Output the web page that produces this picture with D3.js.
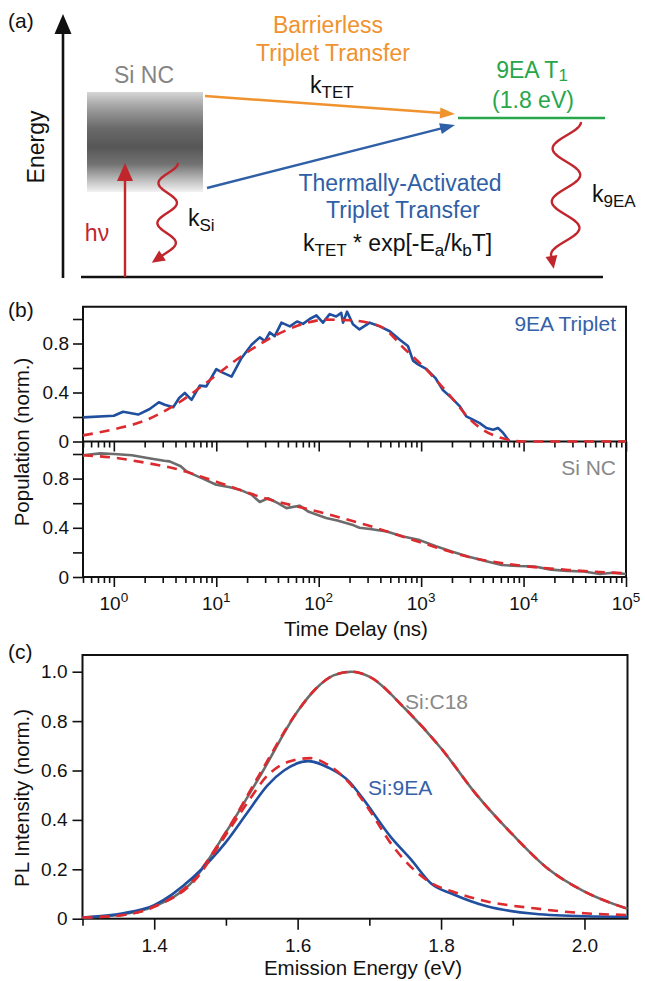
<!DOCTYPE html>
<html>
<head>
<meta charset="utf-8">
<script src="https://cdn.jsdelivr.net/npm/d3@7"></script>
<style>
  body { margin: 0; background: #fff; }
  text { font-family: "Liberation Sans", Arial, Helvetica, sans-serif; }
</style>
</head>
<body>
<svg id="fig"></svg>
<script>
// ---- panel (b), top: 9EA triplet population vs delay (ns) ----
const tripletTime = [0.5, 1, 1.23, 1.73, 2.24, 2.75, 3.14, 3.8, 4.34, 4.93, 5.74, 6.9, 8.0, 10, 11.7, 14.1,
  17.6, 22.1, 26.6, 29.8, 33.3, 37.2, 43.3, 52.3, 61.4, 70.3, 81.6, 95, 110, 128, 148, 166, 173, 189,
  216, 250, 315, 394, 494, 619, 743, 833, 933, 1130, 1373, 1630, 1980, 2390, 2760, 3200, 3730, 4340,
  5050, 5630, 6320, 7300];
const tripletPop = [0.197, 0.21, 0.243, 0.22, 0.265, 0.32, 0.30, 0.28, 0.355, 0.396, 0.34, 0.456, 0.45, 0.59,
  0.56, 0.53, 0.68, 0.79, 0.85, 0.82, 0.89, 0.86, 0.97, 0.94, 0.98, 0.96, 1.0, 1.03, 0.97, 1.04, 1.02, 1.05,
  0.97, 1.06, 0.957, 0.915, 0.97, 0.94, 0.90, 0.83, 0.78, 0.66, 0.63, 0.59, 0.52, 0.42, 0.356, 0.287, 0.205,
  0.178, 0.15, 0.11, 0.096, 0.11, 0.07, 0.0];
const tripletFitTime = [0.5, 1, 2, 4, 8, 15, 30, 60, 120, 200, 400, 700, 1000, 2000, 3000, 4000, 6000, 8000, 10000, 100000];
const tripletFitPop = [0.05, 0.10, 0.17, 0.30, 0.48, 0.655, 0.82, 0.94, 0.995, 0.99, 0.94, 0.75, 0.63, 0.355, 0.18, 0.096, 0.03, 0.005, 0, 0];

// ---- panel (b), bottom: Si NC population ----
const siTime = [0.5, 0.74, 1.0, 1.5, 2.2, 3.1, 3.5, 4.5, 5.1, 6.5, 7.4, 10, 13.6, 16.9, 22, 26.6, 32, 40, 48.4,
  65, 80, 118, 152, 220, 250, 318, 461, 667, 967, 1396, 2020, 2920, 4230, 6100, 8830, 12800, 18500, 26700,
  38600, 55800, 74000, 100000];
const siPop = [0.99, 1.005, 1.0, 0.99, 0.965, 0.945, 0.94, 0.90, 0.86, 0.82, 0.80, 0.75, 0.73, 0.71, 0.67, 0.61,
  0.64, 0.60, 0.56, 0.58, 0.53, 0.48, 0.46, 0.42, 0.40, 0.39, 0.37, 0.33, 0.30, 0.25, 0.205, 0.165, 0.13,
  0.098, 0.09, 0.085, 0.06, 0.05, 0.045, 0.025, 0.035, 0.025];
const siFitTime = [0.5, 1, 2, 4, 10, 30, 100, 300, 1000, 3000, 10000, 30000, 100000];
const siFitPop = [0.99, 0.97, 0.93, 0.88, 0.775, 0.64, 0.53, 0.42, 0.28, 0.16, 0.09, 0.055, 0.03];

// ---- panel (c): PL spectra ----
const c18Energy = [1.30, 1.35, 1.40, 1.45, 1.50, 1.55, 1.60, 1.625, 1.65, 1.675, 1.70, 1.75, 1.80, 1.85, 1.90, 1.95, 2.00, 2.06];
const c18PL = [0.005, 0.015, 0.05, 0.14, 0.35, 0.59, 0.84, 0.93, 0.985, 1.0, 0.98, 0.85, 0.69, 0.50, 0.34, 0.20, 0.11, 0.04];
const c18FitPL = [0.004, 0.013, 0.048, 0.145, 0.35, 0.60, 0.84, 0.93, 0.985, 1.0, 0.98, 0.85, 0.69, 0.50, 0.34, 0.20, 0.11, 0.04];
const ea9Energy = [1.30, 1.357, 1.40, 1.455, 1.50, 1.53, 1.558, 1.581, 1.615, 1.644, 1.672, 1.69, 1.73, 1.758, 1.787, 1.816, 1.864, 1.93, 2.0, 2.06];
const ea9PL = [0.005, 0.022, 0.055, 0.17, 0.31, 0.43, 0.54, 0.60, 0.638, 0.61, 0.555, 0.49, 0.33, 0.24, 0.14, 0.10, 0.05, 0.02, 0.01, 0.008];
const ea9FitEnergy = [1.30, 1.357, 1.40, 1.455, 1.50, 1.53, 1.558, 1.587, 1.618, 1.644, 1.672, 1.70, 1.73, 1.758, 1.787, 1.816, 1.864, 1.93, 2.0, 2.06];
const ea9FitPL = [0.005, 0.015, 0.05, 0.15, 0.34, 0.47, 0.58, 0.635, 0.65, 0.62, 0.55, 0.44, 0.305, 0.21, 0.143, 0.11, 0.07, 0.042, 0.022, 0.015];

const yTicks = [0, 0.2, 0.4, 0.6, 0.8, 1.0];
const bYLabels = [0, 0.4, 0.8];
const decades = [1, 10, 100, 1000, 10000, 100000];
const cMajor = [1.4, 1.6, 1.8, 2.0];
const cMinor = [1.3, 1.5, 1.7, 1.9];

const col = {
    blue: '#1f4f9e', blueText: '#3561a9', gray: '#6c6c6c', grayText: '#888888',
    red: '#dc2a2e', orange: '#f0922e', green: '#27a64c', wine: '#c1262d'
};

const svg = d3.select('#fig').attr('width', 645).attr('height', 981);
svg.append('rect').attr('width', 645).attr('height', 981).attr('fill', '#fff');
const defs = svg.append('defs');

// helpers
const label = (g, x, y, txt, size, color, anchor) =>
    g.append('text').attr('x', x).attr('y', y).attr('dy', '0.35em')
        .attr('font-size', size).attr('fill', color || '#111')
        .attr('text-anchor', anchor || 'middle').text(txt);

// text made of [string, isSub] parts
const richText = (g, x, y, parts, size, color, anchor, subShift) => {
    const t = g.append('text').attr('x', x).attr('y', y).attr('font-size', size)
        .attr('fill', color).attr('text-anchor', anchor || 'start');
    let cur = 0;
    parts.forEach(([s, sub]) => {
        const want = sub ? subShift : 0;
        t.append('tspan').attr('dy', want - cur)
            .attr('font-size', sub ? size * 0.74 : size).text(s);
        cur = want;
    });
    return t;
};

const head = (g, tip, dir, len, wid, color) => {
    const n = Math.hypot(dir[0], dir[1]);
    const ux = dir[0] / n, uy = dir[1] / n;
    const bx = tip[0] - ux * len, by = tip[1] - uy * len;
    g.append('path')
        .attr('d', `M${tip[0]},${tip[1]}L${bx - uy * wid / 2},${by + ux * wid / 2}L${bx + uy * wid / 2},${by - ux * wid / 2}Z`)
        .attr('fill', color);
    return [bx + ux * 2, by + uy * 2];
};

const arrow = (g, from, tip, len, wid, color, sw) => {
    const end = head(g, tip, [tip[0] - from[0], tip[1] - from[1]], len, wid, color);
    g.append('line').attr('x1', from[0]).attr('y1', from[1]).attr('x2', end[0]).attr('y2', end[1])
        .attr('stroke', color).attr('stroke-width', sw);
};

const wavy = (g, x0, y0, y1, cxEnd, amp, period, tipLen, color) => {
    const cx0 = x0 - amp;
    const pts = d3.range(y0, y1 + 0.5, 1).map(y => {
        const c = cx0 + (cxEnd - cx0) * (y - y0) / (y1 - y0);
        return [c + amp * Math.cos(2 * Math.PI * (y - y0) / period), y];
    });
    g.append('path').attr('d', d3.line()(pts)).attr('fill', 'none')
        .attr('stroke', color).attr('stroke-width', 2.4);
    const a = pts[pts.length - 4], b = pts[pts.length - 1];
    const d = [b[0] - a[0], b[1] - a[1]];
    const n = Math.hypot(d[0], d[1]);
    head(g, [b[0] + d[0] / n * tipLen, b[1] + d[1] / n * tipLen], d, tipLen + 1, 12, color);
};

// ================= panel (a) =================
const gA = svg.append('g');
label(gA, 8, 21, '(a)', 21, '#111', 'start');

const grad = defs.append('linearGradient').attr('id', 'siGrad')
    .attr('x1', 0).attr('y1', 0).attr('x2', 0).attr('y2', 1);
[[0, '#d6d6d6'], [0.14, '#a4a4a4'], [0.36, '#6a6a6a'], [0.55, '#565656'], [0.72, '#727272'],
 [0.88, '#bdbdbd'], [1, '#f2f2f2']].forEach(([o, c]) =>
    grad.append('stop').attr('offset', o).attr('stop-color', c));
gA.append('rect').attr('x', 87).attr('y', 92).attr('width', 116).attr('height', 100)
    .attr('fill', 'url(#siGrad)');

// energy axis and baseline
arrow(gA, [63, 278], [63, 14], 20, 17, '#111', 2.6);
gA.append('line').attr('x1', 81).attr('x2', 603).attr('y1', 277).attr('y2', 277)
    .attr('stroke', '#111').attr('stroke-width', 2.6);
gA.append('text').attr('transform', 'translate(36,147) rotate(-90)').attr('dy', '0.35em')
    .attr('text-anchor', 'middle').attr('font-size', 23).attr('fill', '#111').text('Energy');

label(gA, 144, 75, 'Si NC', 23, '#858585');

// transfer arrows and triplet level
arrow(gA, [205, 96], [455, 114], 15, 11, col.orange, 2.4);
arrow(gA, [207, 188], [455, 125], 15, 11, '#2f5fa6', 2.4);
gA.append('line').attr('x1', 458).attr('x2', 605).attr('y1', 118).attr('y2', 118)
    .attr('stroke', col.green).attr('stroke-width', 2.6);

label(gA, 328, 25, 'Barrierless', 23, col.orange);
label(gA, 333, 53, 'Triplet Transfer', 23, col.orange);
richText(gA, 310, 93, [['k', 0], ['TET', 1]], 23, '#111', 'start', 5);

richText(gA, 532, 78, [['9EA T', 0], ['1', 1]], 23, col.green, 'middle', 3);
label(gA, 533, 100, '(1.8 eV)', 23, col.green);

label(gA, 400, 183, 'Thermally-Activated', 23, '#2f5fa6');
label(gA, 403, 210, 'Triplet Transfer', 23, '#2f5fa6');
richText(gA, 303, 251, [['k', 0], ['TET', 1], [' * exp[-E', 0], ['a', 1], ['/k', 0], ['b', 1], ['T]', 0]],
    23, '#111', 'start', 5);

// excitation and decay
arrow(gA, [125, 277], [125, 163], 18, 16, col.wine, 2.4);
label(gA, 97, 233, 'h\u03bd', 23, col.wine);
wavy(gA, 178, 163, 256, 166, 9.5, 40, 12, col.wine);
richText(gA, 188, 226, [['k', 0], ['Si', 1]], 23, '#111', 'start', 5);
wavy(gA, 581, 122, 257, 565, 14, 53, 12, col.wine);
richText(gA, 592, 202, [['k', 0], ['9EA', 1]], 23, '#111', 'start', 5);

// ================= panel (b) =================
const gB = svg.append('g');
const x = d3.scaleLog().domain([0.5, 1e5]).range([83, 626]);
const yTop = d3.scaleLinear().domain([0, 1.1]).range([441.5, 306.75]);
const yBot = d3.scaleLinear().domain([0, 1.1]).range([577, 441.7]);

const minorLog = [];
[0.1, 1, 10, 100, 1000, 10000].forEach(d => d3.range(2, 10).forEach(m => {
    const v = d * m;
    if (v >= 0.5 && v <= 1e5) minorLog.push(v);
}));

const logTicks = (y0) => {
    gB.append('g').attr('transform', `translate(0,${y0})`)
        .call(d3.axisBottom(x).tickValues(minorLog).tickSize(6).tickFormat(''))
        .call(g => g.select('.domain').remove());
    gB.append('g').attr('transform', `translate(0,${y0})`)
        .call(d3.axisBottom(x).tickValues(decades).tickSize(10).tickFormat(''))
        .call(g => g.select('.domain').remove());
};
logTicks(441.5);
logTicks(577);

const yAxisB = (scale) => {
    const g = gB.append('g').attr('transform', 'translate(83,0)')
        .call(d3.axisLeft(scale).tickValues(yTicks).tickSize(10)
            .tickFormat(d => bYLabels.includes(d) ? (d === 0 ? '0' : d3.format('.1f')(d)) : ''));
    g.select('.domain').remove();
    g.selectAll('text').attr('font-size', 19).attr('fill', '#111').attr('x', -14)
        .style('font-family', '"Liberation Sans", Arial, sans-serif');
};
yAxisB(yTop);
yAxisB(yBot);
gB.selectAll('.tick line').attr('stroke', '#111').attr('stroke-width', 1.6);

// frame
gB.append('path')
    .attr('d', `M83,577V306.75H626V577H83M83,441.5H626`)
    .attr('fill', 'none').attr('stroke', '#111').attr('stroke-width', 2);

// decade labels
decades.forEach(d => {
    const t = gB.append('text').attr('x', x(d)).attr('y', 610).attr('text-anchor', 'middle')
        .attr('font-size', 19).attr('fill', '#111');
    t.append('tspan').text('10');
    t.append('tspan').attr('dy', -8).attr('font-size', 13.5).text(Math.round(Math.log10(d)));
});
label(gB, 356, 629, 'Time Delay (ns)', 20.5, '#111');
gB.append('text').attr('transform', 'translate(22,442) rotate(-90)').attr('dy', '0.35em')
    .attr('text-anchor', 'middle').attr('font-size', 20.5).attr('fill', '#111').text('Population (norm.)');
label(gB, 8, 310, '(b)', 21, '#111', 'start');

const lineB = (xs, ys, scale) => d3.line().x((d, i) => x(xs[i])).y(d => scale(d))(ys);
gB.append('path').attr('d', lineB(tripletTime, tripletPop, yTop))
    .attr('fill', 'none').attr('stroke', col.blue).attr('stroke-width', 2.6).attr('stroke-linejoin', 'round');
gB.append('path').attr('d', d3.line().x((d, i) => x(tripletFitTime[i])).y(d => yTop(d)).curve(d3.curveMonotoneX)(tripletFitPop))
    .attr('fill', 'none').attr('stroke', col.red).attr('stroke-width', 2.6).attr('stroke-dasharray', '10,7');
gB.append('path').attr('d', lineB(siTime, siPop, yBot))
    .attr('fill', 'none').attr('stroke', col.gray).attr('stroke-width', 2.6).attr('stroke-linejoin', 'round');
gB.append('path').attr('d', d3.line().x((d, i) => x(siFitTime[i])).y(d => yBot(d)).curve(d3.curveMonotoneX)(siFitPop))
    .attr('fill', 'none').attr('stroke', col.red).attr('stroke-width', 2.6).attr('stroke-dasharray', '10,7');

label(gB, 616, 324, '9EA Triplet', 21, col.blueText, 'end');
label(gB, 616, 468, 'Si NC', 21, col.grayText, 'end');

// ================= panel (c) =================
const gC = svg.append('g');
const xc = d3.scaleLinear().domain([1.3, 2.06]).range([82.5, 627.5]);
const yc = d3.scaleLinear().domain([0, 1.0676]).range([918.7, 655]);

gC.append('g').attr('transform', 'translate(0,918.7)')
    .call(d3.axisBottom(xc).tickValues(cMinor).tickSize(7).tickFormat(''))
    .call(g => g.select('.domain').remove());
const xcAxis = gC.append('g').attr('transform', 'translate(0,918.7)')
    .call(d3.axisBottom(xc).tickValues(cMajor).tickSize(11).tickPadding(9).tickFormat(d3.format('.1f')));
xcAxis.select('.domain').remove();
const ycAxis = gC.append('g').attr('transform', 'translate(82.5,0)')
    .call(d3.axisLeft(yc).tickValues(yTicks).tickSize(10).tickPadding(5)
        .tickFormat(d => d === 0 ? '0' : d3.format('.1f')(d)));
ycAxis.select('.domain').remove();
gC.selectAll('.tick line').attr('stroke', '#111').attr('stroke-width', 1.6);
gC.selectAll('.tick text').attr('font-size', 19).attr('fill', '#111')
    .style('font-family', '"Liberation Sans", Arial, sans-serif');

gC.append('rect').attr('x', 82.5).attr('y', 655).attr('width', 545).attr('height', 263.7)
    .attr('fill', 'none').attr('stroke', '#111').attr('stroke-width', 2);

const lineC = (xs, ys) => d3.line().x((d, i) => xc(xs[i])).y(d => yc(d)).curve(d3.curveMonotoneX)(ys);
gC.append('path').attr('d', lineC(c18Energy, c18PL))
    .attr('fill', 'none').attr('stroke', col.gray).attr('stroke-width', 2.6);
gC.append('path').attr('d', lineC(c18Energy, c18FitPL))
    .attr('fill', 'none').attr('stroke', col.red).attr('stroke-width', 2.6).attr('stroke-dasharray', '10,7');
gC.append('path').attr('d', lineC(ea9Energy, ea9PL))
    .attr('fill', 'none').attr('stroke', col.blue).attr('stroke-width', 2.6);
gC.append('path').attr('d', lineC(ea9FitEnergy, ea9FitPL))
    .attr('fill', 'none').attr('stroke', col.red).attr('stroke-width', 2.6).attr('stroke-dasharray', '10,7');

label(gC, 405, 702, 'Si:C18', 21, col.grayText, 'start');
label(gC, 368, 788, 'Si:9EA', 21, col.blueText, 'start');
label(gC, 363, 968, 'Emission Energy (eV)', 20.5, '#111');
gC.append('text').attr('transform', 'translate(22,798) rotate(-90)').attr('dy', '0.35em')
    .attr('text-anchor', 'middle').attr('font-size', 20.5).attr('fill', '#111').text('PL Intensity (norm.)');
label(gC, 8, 652, '(c)', 21, '#111', 'start');
</script>
</body>
</html>
